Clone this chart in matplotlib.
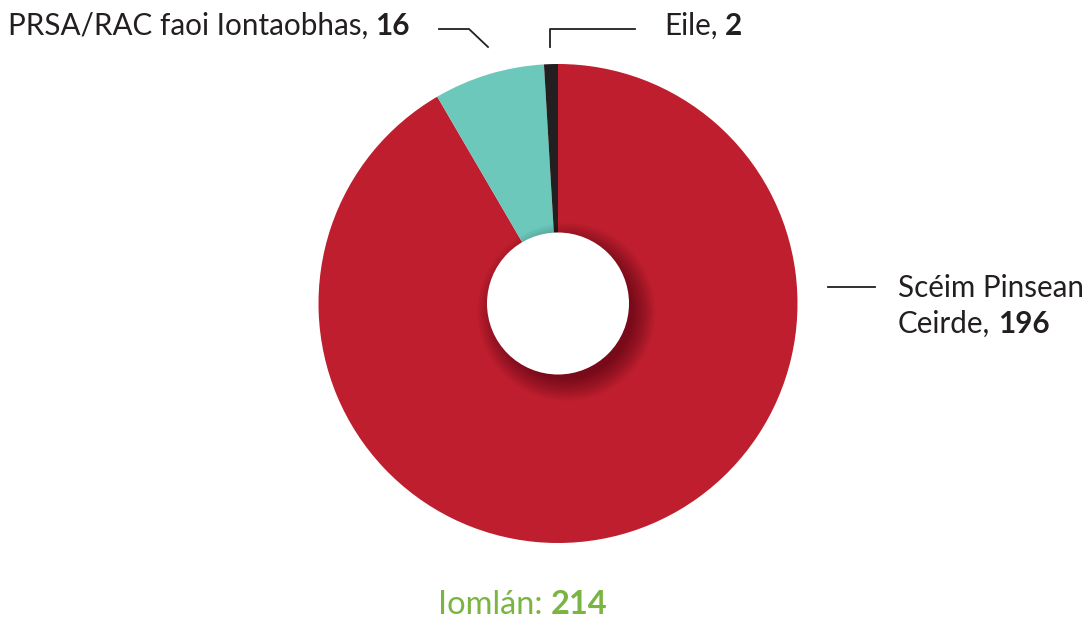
import numpy as np
import matplotlib.pyplot as plt
from matplotlib.patches import Circle

# data
labels = ["Scéim Pinsean\nCeirde, ", "PRSA/RAC faoi Iontaobhas, ", "Eile, "]
values = [196, 16, 2]
colours = ["#be1e2d", "#6dc8bc", "#231f20"]
total_label = "Iomlán: "

W, H = 1088, 621
plt.rcParams['font.family'] = ['Lato', 'DejaVu Sans']
txt_col = "#231f20"
fs = 21.3

fig = plt.figure(figsize=(W / 100, H / 100), dpi=100)

# pie centre / radius in pixels
cx, cy, r = 558, 303.5, 239.5
ax = fig.add_axes([(cx - r) / W, (H - cy - r) / H, 2 * r / W, 2 * r / H])
ax.pie(values, colors=colours, startangle=90, counterclock=False, radius=1,
       wedgeprops=dict(linewidth=0))
ax.set_xlim(-1, 1)
ax.set_ylim(-1, 1)
ax.set_aspect('equal')
ax.axis('off')

# soft shadow under the hole, falling to the lower right
hole = 71 / r
for k in range(20):
    ax.add_patch(Circle((0.035, -0.035), hole - 0.02 + 0.005 * k, color='black',
                        alpha=0.02, lw=0, zorder=3))
ax.add_patch(Circle((0, 0), hole, color='white', lw=0, zorder=4))


def px(x, y):
    return x / W, 1 - y / H


fig.canvas.draw()
rend = fig.canvas.get_renderer()


def width_px(s, size=fs, **kw):
    t = fig.text(0, 0, s, fontsize=size, **kw)
    w = t.get_window_extent(rend).width
    t.remove()
    return w


def label(x, y, normal, bold, colour=txt_col, ha='left', size=fs):
    # y is baseline in pixels
    space = width_px("a a", size) - width_px("aa", size)
    wn = width_px(normal.rstrip(), size)
    wb = width_px(bold, size, weight='bold')
    tot = wn + space + wb
    if ha == 'right':
        x = x - tot
    elif ha == 'center':
        x = x - tot / 2
    fig.text(*px(x, y), normal.rstrip(), fontsize=size, color=colour, va='baseline')
    fig.text(*px(x + wn + space, y), bold, fontsize=size, color=colour,
             weight='bold', va='baseline')


# PRSA label
label(410, 35, labels[1], str(values[1]), ha='right')
# Eile label
label(664, 35, labels[2], str(values[2]))
# Sceim label (two lines)
fig.text(*px(898, 297), labels[0].split("\n")[0], fontsize=fs, color=txt_col,
         va='baseline')
label(898, 333, labels[0].split("\n")[1], str(values[0]))
# total
label(523, 614, total_label, str(sum(values)), colour="#7ab441", ha='center',
      size=23.5)

# leader lines
lines = [
    [(439, 29), (469, 29), (488, 47)],
    [(635, 29), (550, 29), (550, 47)],
    [(828, 287), (875, 287)],
]
for pts in lines:
    xs = [p[0] / W for p in pts]
    ys = [1 - p[1] / H for p in pts]
    fig.add_artist(plt.Line2D(xs, ys, color=txt_col, lw=1.3))

fig.savefig("out.png", dpi=100)
